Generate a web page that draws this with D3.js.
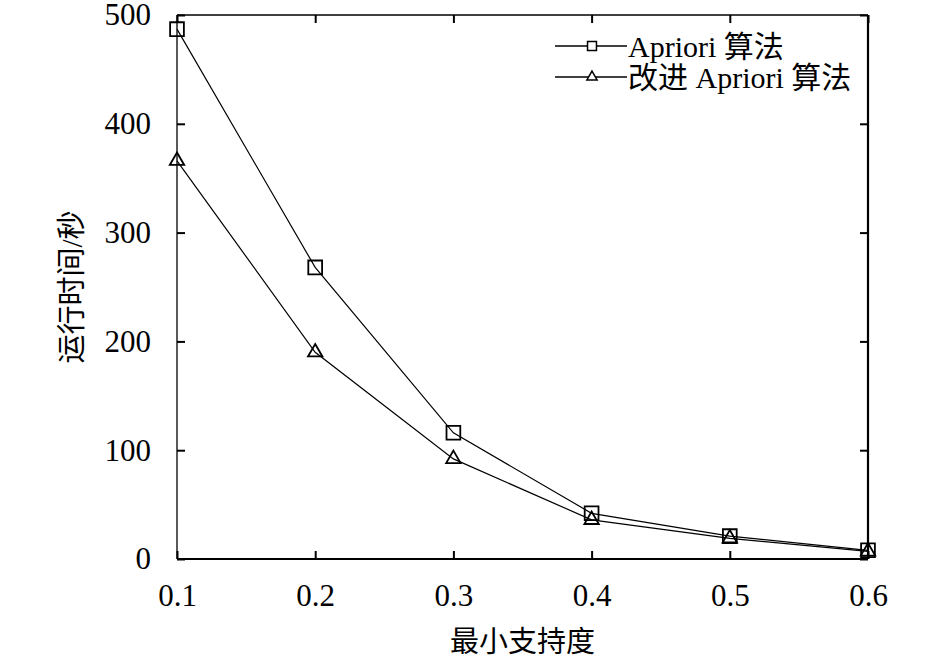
<!DOCTYPE html>
<html>
<head>
<meta charset="utf-8">
<script src="https://cdn.jsdelivr.net/npm/d3@7/dist/d3.min.js"></script>
<style>
  body { margin: 0; background: #fff; }
  text { font-family: "Liberation Serif", "Noto Sans CJK SC", serif; fill: #000; }
</style>
</head>
<body>
<div id="root"></div>
<script>
const supports = [0.1, 0.2, 0.3, 0.4, 0.5, 0.6];
const aprioriTimes = [487, 268, 116, 42, 21, 8];
const improvedTimes = [366, 190, 92, 36, 19, 7];
const xTicks = [0.1, 0.2, 0.3, 0.4, 0.5, 0.6];
const yTicks = [0, 100, 200, 300, 400, 500];
const seriesNames = ["Apriori 算法", "改进 Apriori 算法"];

const outerWidth = 945;
const outerHeight = 659;
const margin = { top: 15, right: 77, bottom: 100, left: 177 };
const width = outerWidth - margin.left - margin.right;
const height = outerHeight - margin.top - margin.bottom;

let scaleX = d3.scaleLinear().domain([0.1, 0.6]).range([0, width]);
let scaleY = d3.scaleLinear().domain([0, 500]).range([height, 0]);

let svg = d3.select("#root")
            .append("svg")
            .attr("width", outerWidth)
            .attr("height", outerHeight);

let chart = svg.append("g")
               .attr("transform", `translate(${margin.left}, ${margin.top})`);

// inward ticks on all four sides
const tickLen = 8;
chart.append("g")
    .attr("transform", `translate(0, ${height})`)
    .call(d3.axisBottom(scaleX).tickValues(xTicks).tickSize(-tickLen).tickPadding(tickLen + 17).tickFormat(d3.format(".1f")));
chart.append("g")
    .call(d3.axisTop(scaleX).tickValues(xTicks).tickSize(-tickLen).tickFormat(""));
chart.append("g")
    .call(d3.axisLeft(scaleY).tickValues(yTicks).tickSize(-tickLen).tickPadding(tickLen + 18));
chart.append("g")
    .attr("transform", `translate(${width}, 0)`)
    .call(d3.axisRight(scaleY).tickValues(yTicks).tickSize(-tickLen).tickFormat(""));

chart.selectAll(".domain").remove();
chart.selectAll(".tick line").attr("stroke", "#000").attr("stroke-width", 2);
chart.selectAll(".tick text")
    .attr("font-size", 31)
    .attr("font-family", "Liberation Serif");

// frame: thin left/top, heavier bottom/right
chart.append("line").attr("x1", 0).attr("x2", width).attr("y1", 0).attr("y2", 0)
    .attr("stroke", "#000").attr("stroke-width", 1.3);
chart.append("line").attr("x1", 0).attr("x2", 0).attr("y1", 0).attr("y2", height)
    .attr("stroke", "#000").attr("stroke-width", 1.3);
chart.append("line").attr("x1", 0).attr("x2", width).attr("y1", height).attr("y2", height)
    .attr("stroke", "#000").attr("stroke-width", 2.2);
chart.append("line").attr("x1", width).attr("x2", width).attr("y1", 0).attr("y2", height)
    .attr("stroke", "#000").attr("stroke-width", 2.2);

const series = [
    { name: seriesNames[0], values: aprioriTimes, symbol: d3.symbolSquare, size: 190 },
    { name: seriesNames[1], values: improvedTimes, symbol: d3.symbolTriangle, size: 90 }
];

let line = d3.line()
    .x((d, i) => scaleX(supports[i]))
    .y(d => scaleY(d));

series.forEach(s => {
    chart.append("path")
        .datum(s.values)
        .attr("d", line)
        .attr("fill", "none")
        .attr("stroke", "#000")
        .attr("stroke-width", 1.2);

    chart.selectAll(null)
        .data(s.values)
        .enter().append("path")
        .attr("d", d3.symbol().type(s.symbol).size(s.size))
        .attr("transform", (d, i) => `translate(${scaleX(supports[i])}, ${scaleY(d)})`)
        .attr("fill", "none")
        .attr("stroke", "#000")
        .attr("stroke-width", 1.8);
});

// legend
let legend = svg.append("g").attr("transform", "translate(555, 46)");
series.forEach((s, i) => {
    let row = legend.append("g").attr("transform", `translate(0, ${i * 31})`);
    row.append("line").attr("x1", 0).attr("x2", 72).attr("y1", 0).attr("y2", 0)
        .attr("stroke", "#000").attr("stroke-width", 1.3);
    row.append("path")
        .attr("d", d3.symbol().type(s.symbol).size(i === 0 ? 80 : 45))
        .attr("transform", "translate(37, 0)")
        .attr("fill", "#fff")
        .attr("stroke", "#000")
        .attr("stroke-width", 1.5);
    row.append("text")
        .attr("x", 73)
        .attr("y", 0)
        .attr("dy", "0.35em")
        .attr("font-size", 30)
        .text(s.name);
});

// axis titles
svg.append("text")
    .attr("x", margin.left + width / 2)
    .attr("y", 652)
    .attr("text-anchor", "middle")
    .attr("font-size", 29)
    .text("最小支持度");

svg.append("text")
    .attr("transform", `translate(82, ${margin.top + height / 2}) rotate(-90)`)
    .attr("text-anchor", "middle")
    .attr("font-size", 29)
    .text("运行时间/秒");
</script>
</body>
</html>
